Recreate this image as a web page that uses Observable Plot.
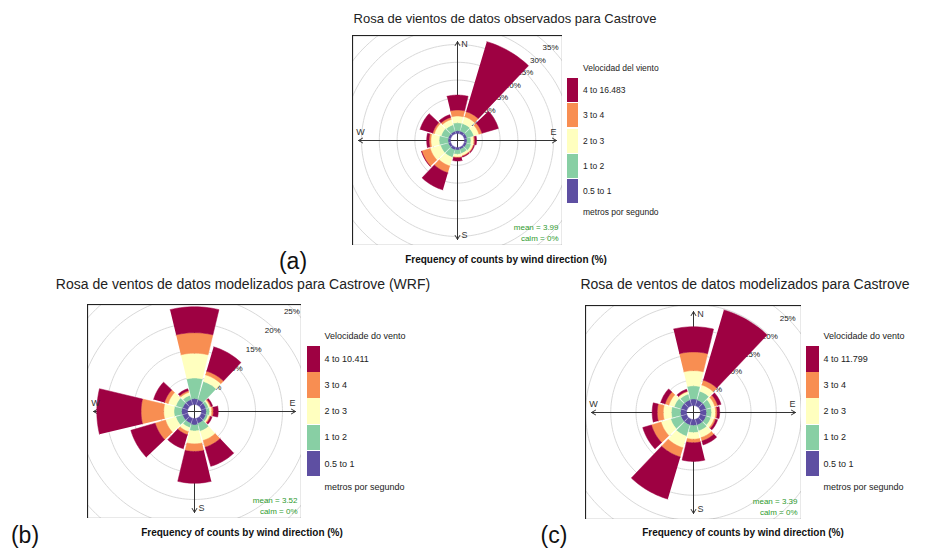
<!DOCTYPE html>
<html><head><meta charset="utf-8">
<script src="https://cdn.jsdelivr.net/npm/d3@7"></script>
<script src="https://cdn.jsdelivr.net/npm/@observablehq/plot@0.6"></script>
<style>
body{margin:0;background:#fff;font-family:Arial,"Liberation Sans",Helvetica,sans-serif;}
#root{position:relative;width:950px;height:556px;overflow:hidden;background:#fff;}
.abs{position:absolute;white-space:nowrap;line-height:1;color:#222;}
.c{transform:translate(-50%,-50%);}
.m{transform:translateY(-50%);}
.sw{position:absolute;}
</style></head><body><div id="root"></div>
<script>
// ---- data ----
const directions = [0, 30, 60, 90, 120, 150, 180, 210, 240, 270, 300, 330];
const speedClasses = ["0.5 to 1", "1 to 2", "2 to 3", "3 to 4", "4+"];
const speedColors = ["#5E4FA2", "#88CFA4", "#FFFFBF", "#F88E52", "#9E0142"];

// (a) observed: frequency (%) per speed class by direction
const obs_05_1 = [0.8, 0.8, 0.8, 0.7, 0.7, 0.6, 0.7, 0.8, 0.7, 0.7, 0.7, 0.7];
const obs_1_2  = [2.2, 2.2, 2.0, 1.1, 1.3, 1.2, 1.2, 2.2, 2.3, 2.5, 2.1, 1.9];
const obs_2_3  = [1.9, 2.0, 1.5, 0.8, 0.6, 0.7, 0.8, 2.5, 3.0, 2.3, 2.0, 1.6];
const obs_3_4  = [1.7, 1.5, 0.9, 0.3, 0.2, 0.2, 0.2, 2.0, 2.5, 0.5, 0.5, 0.6];
const obs_4p   = [4.2, 20.5, 4.8, 0.5, 0.2, 0.2, 0.9, 5.0, 0.1, 0.7, 3.7, 0.8];

// (b) WRF modelled
const wrf_05_1 = [1.1, 1.0, 0.9, 0.9, 0.9, 1.0, 1.2, 1.0, 1.0, 1.1, 1.0, 1.0];
const wrf_1_2  = [3.8, 3.5, 0.5, 0.6, 0.4, 1.5, 1.1, 0.8, 1.3, 1.4, 1.3, 0.8];
const wrf_2_3  = [4.6, 1.3, 0.3, 0.4, 0.3, 1.8, 2.4, 0.8, 2.0, 1.9, 1.5, 0.6];
const wrf_3_4  = [3.8, 0.7, 0.2, 0.3, 0.2, 1.3, 1.4, 0.6, 2.0, 4.2, 0.7, 0.3];
const wrf_4p   = [4.8, 4.7, 0.3, 0.9, 0.3, 3.7, 5.9, 2.7, 4.7, 8.2, 2.1, 0.4];

// (c) modelled
const mod_05_1 = [1.3, 1.2, 1.2, 1.2, 1.2, 1.2, 1.2, 1.2, 1.2, 1.2, 1.2, 1.2];
const mod_1_2  = [2.6, 1.8, 1.1, 1.0, 1.0, 1.2, 1.4, 2.3, 2.1, 1.8, 1.4, 1.2];
const mod_2_3  = [3.0, 1.3, 0.7, 0.8, 0.7, 1.4, 1.3, 2.4, 2.0, 1.6, 1.1, 0.5];
const mod_3_4  = [3.7, 1.0, 0.6, 0.3, 0.3, 0.7, 0.7, 1.9, 2.0, 1.2, 0.8, 0.1];
const mod_4p   = [5.0, 14.5, 0.7, 0.5, 0.4, 0.8, 3.7, 8.7, 1.8, 1.0, 0.9, 0.4];

const ringTicksA = [5, 10, 15, 20, 25, 30, 35, 40];
const ringLabelsA = [5, 10, 15, 20, 25, 30, 35];
const ringTicksBC = [5, 10, 15, 20, 25, 30];
const ringLabelsBC = [5, 10, 15, 20, 25];

const legendLabelsA = ["4 to 16.483", "3 to 4", "2 to 3", "1 to 2", "0.5 to 1"];
const legendLabelsB = ["4 to 10.411", "3 to 4", "2 to 3", "1 to 2", "0.5 to 1"];
const legendLabelsC = ["4 to 11.799", "3 to 4", "2 to 3", "1 to 2", "0.5 to 1"];

const compass = ["N", "E", "S", "W"];

// ---- drawing ----
const root = document.getElementById("root");
function addText(txt, x, y, style, cls) {
  const d = document.createElement("div");
  d.className = "abs " + (cls || "c");
  d.textContent = txt;
  d.style.left = x + "px"; d.style.top = y + "px";
  Object.assign(d.style, style || {});
  root.appendChild(d);
  return d;
}

function rose(p) {
  const {w, h, k, holePx, series, rings, ringLabels, mean, calm, labelDx} = p;
  const hole = holePx / k;
  const hw = 13.5;
  const rows = [];
  directions.forEach((d, i) => {
    let cum = 0;
    series.forEach((arr, c) => {
      const r0 = hole + cum; cum += arr[i]; const r1 = hole + cum;
      const id = d + "-" + c, n = 14;
      for (let j = 0; j <= n; j++) {
        const a = (d - hw + 2 * hw * j / n) * Math.PI / 180;
        rows.push({id, cls: speedClasses[c], x: r1 * Math.sin(a), y: r1 * Math.cos(a)});
      }
      for (let j = n; j >= 0; j--) {
        const a = (d - hw + 2 * hw * j / n) * Math.PI / 180;
        rows.push({id, cls: speedClasses[c], x: r0 * Math.sin(a), y: r0 * Math.cos(a)});
      }
    });
  });
  const ringRows = [];
  rings.forEach(v => {
    const r = hole + v;
    for (let j = 0; j <= 180; j++) {
      const a = j * 2 * Math.PI / 180;
      ringRows.push({ring: v, x: r * Math.sin(a), y: r * Math.cos(a)});
    }
  });
  const labs = ringLabels.map(v => { const r = hole + v; return {t: v + "%", x: r * Math.SQRT1_2, y: r * Math.SQRT1_2}; });
  const X = w / 2 / k, Y = h / 2 / k, tip = 6 / k;
  const axes = [
    {x2: 0, y2: Y - tip}, {x2: X - tip, y2: 0}, {x2: 0, y2: -(Y - tip)}, {x2: -(X - tip), y2: 0}
  ].map(a => ({x1: 0, y1: 0, ...a}));
  const comp = [
    {t: compass[0], x: 0, y: Y - tip},
    {t: compass[1], x: X - tip, y: 0},
    {t: compass[2], x: 0, y: -(Y - tip)},
    {t: compass[3], x: -(X - tip), y: 0}
  ];
  return Plot.plot({
    width: w, height: h, margin: 0,
    x: {domain: [-X, X], axis: null},
    y: {domain: [-Y, Y], axis: null},
    color: {domain: speedClasses, range: speedColors},
    style: {background: "white", overflow: "hidden", fontFamily: "Arial, 'Liberation Sans', sans-serif"},
    marks: [
      Plot.line(ringRows, {x: "x", y: "y", z: "ring", stroke: "#d9d9d9", strokeWidth: 1}),
      Plot.text(labs, {x: "x", y: "y", text: "t", dx: labelDx, fontSize: 8, fill: "#222"}),
      Plot.arrow(axes, {x1: "x1", y1: "y1", x2: "x2", y2: "y2", stroke: "#333", strokeWidth: 1, headLength: 7, headAngle: 60}),
      Plot.text(comp.slice(0, 1), {x: "x", y: "y", text: "t", dx: 7, dy: 3, fontSize: 9, fill: "#333"}),
      Plot.text(comp.slice(1, 2), {x: "x", y: "y", text: "t", dx: -3, dy: -8, fontSize: 9, fill: "#333"}),
      Plot.text(comp.slice(2, 3), {x: "x", y: "y", text: "t", dx: 7, dy: -4, fontSize: 9, fill: "#333"}),
      Plot.line(rows, {x: "x", y: "y", z: "id", fill: "cls", stroke: "cls", strokeWidth: 0.5}),
      Plot.text(comp.slice(3, 4), {x: "x", y: "y", text: "t", dx: 2, dy: -8, fontSize: 9, fill: "#333"}),
      Plot.text(["mean = " + mean], {frameAnchor: "bottom-right", dx: -4, dy: -16, textAnchor: "end", fontSize: 8, fill: "#2e9a2e"}),
      Plot.text(["calm = " + calm], {frameAnchor: "bottom-right", dx: -4, dy: -5, textAnchor: "end", fontSize: 8, fill: "#2e9a2e"}),
      Plot.frame({stroke: "#222", strokeWidth: 1.2})
    ]
  });
}

function place(node, left, top) {
  node.style.position = "absolute";
  node.style.left = left + "px";
  node.style.top = top + "px";
  root.appendChild(node);
}

function legend(title, labels, x, y0, sw, shH, step, fs, bottomY) {
  addText(title, x + sw + 5, y0 - 10, {fontSize: fs + "px"}, "m");
  labels.forEach((lab, i) => {
    const s = document.createElement("div");
    s.className = "sw";
    s.style.left = x + "px"; s.style.top = (y0 + i * step) + "px";
    s.style.width = sw + "px"; s.style.height = shH + "px";
    s.style.background = speedColors[speedColors.length - 1 - i];
    root.appendChild(s);
    addText(lab, x + sw + 5, y0 + i * step + shH / 2, {fontSize: fs + "px"}, "m");
  });
  addText("metros por segundo", x + sw + 5, bottomY, {fontSize: fs + "px"}, "m");
}

// panel (a)
place(rose({w: 210, h: 210, k: 3.56, holePx: 7, labelDx: 0,
  series: [obs_05_1, obs_1_2, obs_2_3, obs_3_4, obs_4p],
  rings: ringTicksA, ringLabels: ringLabelsA, mean: "3.99", calm: "0%"}), 352, 35);
// panel (b)
place(rose({w: 214, h: 214, k: 5.4, holePx: 7, labelDx: -3,
  series: [wrf_05_1, wrf_1_2, wrf_2_3, wrf_3_4, wrf_4p],
  rings: ringTicksBC, ringLabels: ringLabelsBC, mean: "3.52", calm: "0%"}), 87, 304);
// panel (c)
place(rose({w: 216, h: 214, k: 5.05, holePx: 7, labelDx: 0,
  series: [mod_05_1, mod_1_2, mod_2_3, mod_3_4, mod_4p],
  rings: ringTicksBC, ringLabels: ringLabelsBC, mean: "3.39", calm: "0%"}), 585, 305);

// titles
addText("Rosa de vientos de datos observados para Castrove", 505, 18, {fontSize: "13px"});
addText("Rosa de ventos de datos modelizados para Castrove (WRF)", 243, 284, {fontSize: "14px"});
addText("Rosa de ventos de datos modelizados para Castrove", 745, 284, {fontSize: "14px"});

// legends
legend("Velocidad del viento", legendLabelsA, 567, 78, 11, 24, 25.3, 8.5, 212);
legend("Velocidade do vento", legendLabelsB, 307, 346, 12.5, 25.5, 26.2, 9, 487);
legend("Velocidade do vento", legendLabelsC, 806, 346, 12.5, 25.5, 26.2, 9, 487);

// axis captions
const cap = "Frequency of counts by wind direction (%)";
addText(cap, 506, 260, {fontSize: "10px", fontWeight: "bold", color: "#111"});
addText(cap, 242, 533, {fontSize: "10px", fontWeight: "bold", color: "#111"});
addText(cap, 743, 533, {fontSize: "10px", fontWeight: "bold", color: "#111"});

// panel letters
addText("(a)", 293, 261, {fontSize: "23px", color: "#111"});
addText("(b)", 25, 535, {fontSize: "23px", color: "#111"});
addText("(c)", 554, 535, {fontSize: "23px", color: "#111"});
</script></body></html>
